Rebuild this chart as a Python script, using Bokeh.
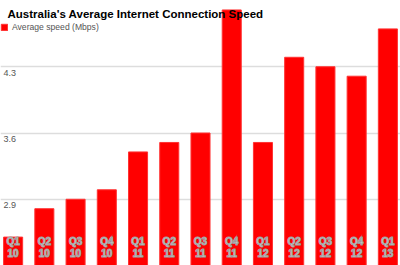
from bokeh.plotting import figure
from bokeh.models import FactorRange, Range1d, Label, Legend, LegendItem, FixedTicker, ColumnDataSource
from bokeh.core.properties import value
from bokeh.embed import file_html
from bokeh.resources import INLINE

quarters = ["Q1", "Q2", "Q3", "Q4", "Q1", "Q2", "Q3", "Q4", "Q1", "Q2", "Q3", "Q4", "Q1"]
years = ["10", "10", "10", "10", "11", "11", "11", "11", "12", "12", "12", "12", "13"]
speeds = [2.5, 2.8, 2.9, 3.0, 3.4, 3.5, 3.6, 4.9, 3.5, 4.4, 4.3, 4.2, 4.7]
y_ticks = [2.9, 3.6, 4.3]
y_min, y_max = 2.2, 5.0
title_text = "Australia's Average Internet Connection Speed"
series_name = "Average speed (Mbps)"

FONT = "Liberation Sans"
cats = [f"{q} {y}" for q, y in zip(quarters, years)]
labels = [f"{q}\n{y}" for q, y in zip(quarters, years)]

src = ColumnDataSource(dict(cat=cats, speed=speeds, label=labels, base=[y_min] * len(cats)))

p = figure(width=400, height=265, output_backend="svg", toolbar_location=None,
           x_range=FactorRange(factors=cats, range_padding=-0.096, range_padding_units="absolute"),
           y_range=Range1d(y_min, y_max),
           min_border=0, min_border_left=0, min_border_right=0, min_border_top=0, min_border_bottom=0)
p.outline_line_color = None
p.background_fill_color = "white"
p.xaxis.visible = False
p.yaxis.visible = False
p.xgrid.visible = False
p.yaxis.ticker = FixedTicker(ticks=y_ticks)
p.ygrid.ticker = FixedTicker(ticks=y_ticks)
p.ygrid.grid_line_color = "#dddddd"
p.ygrid.grid_line_width = 1.5

bars = p.vbar(x="cat", top="speed", bottom=y_min, width=0.61, source=src,
              fill_color="#ff0000", line_color="#ff3333", line_width=1)

for t in y_ticks:
    p.add_layout(Label(x=3, x_units="screen", y=t, y_units="data", y_offset=-3,
                       text=str(t), text_baseline="top", text_font=FONT,
                       text_font_size="9px", text_color="#555555"))

p.text(x="cat", y="base", text="label", source=src, text_align="center",
       text_baseline="bottom", y_offset=-6, text_font=value(FONT), text_font_size="10px",
       text_font_style="bold", text_color="white", text_outline_color="#a0a0a0",
       text_line_height=1.15)

p.add_layout(Label(x=7, y=252, x_units="screen", y_units="screen", text=title_text,
                   text_baseline="middle", text_font=FONT, text_font_size="11.5px",
                   text_font_style="bold", text_color="black"))

legend = Legend(items=[LegendItem(label=series_name, renderers=[bars])],
                location=(0, 233), padding=0, margin=0, spacing=0,
                glyph_width=8, glyph_height=8, label_height=10, label_standoff=4,
                label_text_font=FONT, label_text_font_size="8.6px", label_text_color="#555555",
                background_fill_alpha=0, border_line_alpha=0)
p.add_layout(legend)

open("out.html", "w").write(file_html(p, INLINE))
